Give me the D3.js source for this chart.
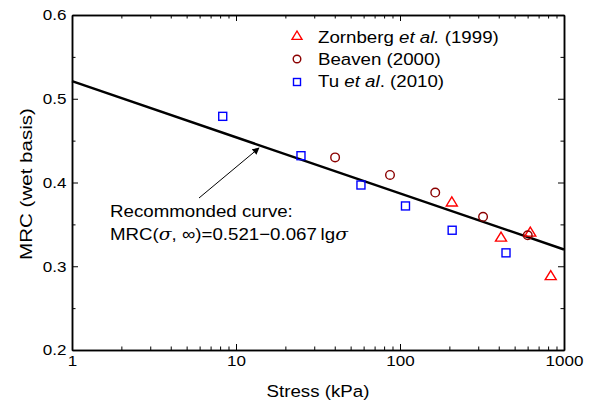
<!DOCTYPE html>
<html><head><meta charset="utf-8">
<script src="https://cdn.jsdelivr.net/npm/d3@7"></script>
<style>
body{margin:0;background:#fff;}
svg text{font-family:"Liberation Sans",Arial,sans-serif;fill:#000;}
</style></head>
<body><svg id="c" width="593" height="405"></svg>
<script>
// Data
const zornStress = [207, 413, 623, 830];
const zornMRC    = [0.377, 0.335, 0.341, 0.289];
const beavStress = [40.2, 86.9, 164, 321, 601];
const beavMRC    = [0.430, 0.409, 0.388, 0.359, 0.337];
const tuStress   = [8.3, 24.9, 57.8, 108, 208, 443];
const tuMRC      = [0.479, 0.432, 0.397, 0.372, 0.343, 0.316];
const curveA = 0.521, curveB = 0.067;
const curveStress = [1, 1000];
const xTicks = [1, 10, 100, 1000];
const yTicks = [0.2, 0.3, 0.4, 0.5, 0.6];
const yMinor = [0.25, 0.35, 0.45, 0.55];
const legendLabels = [["Zornberg ", "et al.", " (1999)"], ["Beaven (2000)", "", ""], ["Tu ", "et al", ". (2010)"]];

const svg = d3.select("#c");
const L = 72, R = 564, T = 15, B = 350;
const x = d3.scaleLog().domain([1, 1000]).range([L, R]);
const y = d3.scaleLinear().domain([0.2, 0.6]).range([B, T]);
const SX = 1.1, FS = 17;

const xMinor = [];
for (let d = 1; d < 1000; d *= 10) for (let k = 2; k <= 9; k++) xMinor.push(d * k);

function styleAxis(g){
  g.select(".domain").attr("stroke","#000").attr("stroke-width",1.5);
  g.selectAll(".tick line").attr("stroke","#000").attr("stroke-width",1);
  g.selectAll(".tick text").attr("fill","#000").style("font-size","15.5px")
    .attr("transform","scale(1.1,1)");
}
// bottom
svg.append("g").attr("transform",`translate(0,${B})`)
  .call(d3.axisBottom(x).tickValues(xTicks).tickFormat(d3.format("d")).tickSizeInner(-6).tickSizeOuter(0).tickPadding(5))
  .call(styleAxis);
svg.append("g").attr("transform",`translate(0,${B})`)
  .call(d3.axisBottom(x).tickValues(xMinor).tickFormat("").tickSizeInner(-3.5).tickSizeOuter(0))
  .call(styleAxis);
// top
svg.append("g").attr("transform",`translate(0,${T})`)
  .call(d3.axisTop(x).tickValues(xTicks).tickFormat("").tickSizeInner(-6).tickSizeOuter(0))
  .call(styleAxis);
svg.append("g").attr("transform",`translate(0,${T})`)
  .call(d3.axisTop(x).tickValues(xMinor).tickFormat("").tickSizeInner(-3.5).tickSizeOuter(0))
  .call(styleAxis);
// left
svg.append("g").attr("transform",`translate(${L},0)`)
  .call(d3.axisLeft(y).tickValues(yTicks).tickFormat(d3.format(".1f")).tickSizeInner(-6).tickSizeOuter(0).tickPadding(5))
  .call(styleAxis);
svg.append("g").attr("transform",`translate(${L},0)`)
  .call(d3.axisLeft(y).tickValues(yMinor).tickFormat("").tickSizeInner(-3.5).tickSizeOuter(0))
  .call(styleAxis);
// right
svg.append("g").attr("transform",`translate(${R},0)`)
  .call(d3.axisRight(y).tickValues(yTicks).tickFormat("").tickSizeInner(-6).tickSizeOuter(0))
  .call(styleAxis);
svg.append("g").attr("transform",`translate(${R},0)`)
  .call(d3.axisRight(y).tickValues(yMinor).tickFormat("").tickSizeInner(-3.5).tickSizeOuter(0))
  .call(styleAxis);

// axis titles
svg.append("text").attr("transform",`translate(${(L+R)/2},397) scale(${SX},1)`).attr("text-anchor","middle")
  .style("font-size",FS+"px").text("Stress (kPa)");
svg.append("text").attr("transform",`translate(32,184) rotate(-90) scale(1.21,1)`).attr("text-anchor","middle")
  .style("font-size",FS+"px").text("MRC (wet basis)");

// curve
const line = d3.line().x(d=>x(d)).y(d=>y(curveA - curveB*Math.log10(d)));
svg.append("path").datum(curveStress).attr("d",line).attr("fill","none").attr("stroke","#000").attr("stroke-width",2.4);

// markers
const triPath = "M0,-4.8L5.5,4.2L-5.5,4.2Z";
svg.append("g").selectAll("path").data(zornStress).join("path")
  .attr("transform",(d,i)=>`translate(${x(d)},${y(zornMRC[i])})`)
  .attr("d",triPath).attr("fill","none").attr("stroke","#ff0000").attr("stroke-width",1.4);
svg.append("g").selectAll("circle").data(beavStress).join("circle")
  .attr("cx",d=>x(d)).attr("cy",(d,i)=>y(beavMRC[i])).attr("r",4.3)
  .attr("fill","none").attr("stroke","#8b0000").attr("stroke-width",1.4);
svg.append("g").selectAll("rect").data(tuStress).join("rect")
  .attr("x",d=>x(d)-4).attr("y",(d,i)=>y(tuMRC[i])-4).attr("width",8).attr("height",8)
  .attr("fill","none").attr("stroke","#0000ff").attr("stroke-width",1.4);

// legend
const lg = svg.append("g");
const lm = [35.5, 59, 82], lb = [43, 65, 87];
lg.append("path").attr("transform",`translate(297,${lm[0]})`).attr("d","M0,-4.5L5,3.9L-5,3.9Z")
  .attr("fill","none").attr("stroke","#ff0000").attr("stroke-width",1.4);
lg.append("circle").attr("cx",297).attr("cy",lm[1]).attr("r",3.8).attr("fill","none").attr("stroke","#8b0000").attr("stroke-width",1.4);
lg.append("rect").attr("x",293.5).attr("y",lm[2]-3.5).attr("width",7).attr("height",7).attr("fill","none").attr("stroke","#0000ff").attr("stroke-width",1.4);
legendLabels.forEach((parts,i)=>{
  const t = lg.append("text").attr("transform",`translate(318,${lb[i]}) scale(${SX},1)`).style("font-size",FS+"px");
  t.append("tspan").text(parts[0]);
  if (parts[1]) t.append("tspan").style("font-style","italic").text(parts[1]);
  if (parts[2]) t.append("tspan").text(parts[2]);
});

// annotation
svg.append("defs").append("marker").attr("id","ah").attr("viewBox","0 0 10 10").attr("refX",9).attr("refY",5)
  .attr("markerWidth",9).attr("markerHeight",7).attr("markerUnits","userSpaceOnUse").attr("orient","auto")
  .append("path").attr("d","M0,0L10,5L0,10Z").attr("fill","#000");
svg.append("line").attr("x1",199).attr("y1",198).attr("x2",259).attr("y2",148)
  .attr("stroke","#000").attr("stroke-width",1).attr("marker-end","url(#ah)");
svg.append("text").attr("transform",`translate(110,217) scale(${SX},1)`).style("font-size",FS+"px").text("Recommonded curve:");
const eq = svg.append("text").attr("transform",`translate(110,240) scale(${SX},1)`).style("font-size",FS+"px");
eq.append("tspan").text("MRC(");
eq.append("tspan").style("font-style","italic").style("font-family","'DejaVu Serif',serif").text("σ");
eq.append("tspan").text(", ∞)=0.521−0.067\u2009lg");
eq.append("tspan").style("font-style","italic").style("font-family","'DejaVu Serif',serif").text("σ");
</script></body></html>
